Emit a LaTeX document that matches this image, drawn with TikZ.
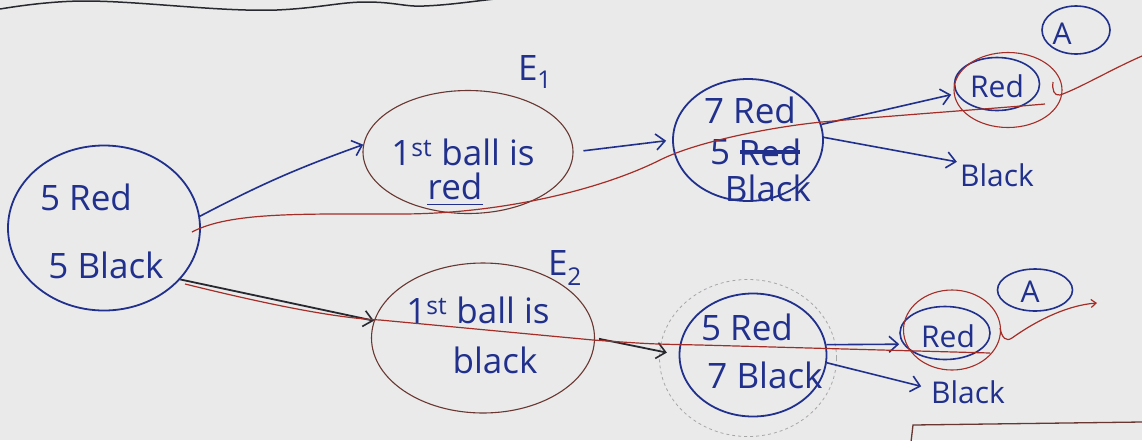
\documentclass[tikz,border=0pt]{standalone}
\usepackage{fontspec}
\setmainfont{Open Sans}
\usetikzlibrary{arrows.meta,shapes.geometric,calc}
\definecolor{board}{RGB}{233,234,233}
\definecolor{ink}{RGB}{32,48,140}
\definecolor{redink}{RGB}{165,45,40}
\definecolor{brownink}{RGB}{105,55,50}
\definecolor{darkink}{RGB}{40,40,48}
\begin{document}
\begin{tikzpicture}[x=1pt,y=-1pt,
  ell/.style={ellipse, draw=ink, line width=1.8pt, inner sep=0pt},
  thinell/.style={ellipse, draw=brownink, line width=1.1pt, inner sep=0pt},
  redell/.style={ellipse, draw=redink, line width=1.1pt, inner sep=0pt},
  txt/.style={text=ink, font=\fontsize{35}{40}\selectfont, inner sep=0pt},
  smalltxt/.style={text=ink, font=\fontsize{30}{34}\selectfont, inner sep=0pt},
  arr/.style={draw=ink, line width=1.6pt, -{Straight Barb[length=9pt,width=16pt,line width=1.6pt]}},
  darkarr/.style={draw=darkink, line width=1.8pt, -{Straight Barb[length=9pt,width=16pt,line width=1.6pt]}},
  redline/.style={draw=redink, line width=1.2pt}]
\fill[board] (0,0) rectangle (1142,440);
\useasboundingbox (0,0) rectangle (1142,440);

% top wavy line
\draw[darkink, line width=1.5pt] (0,9) .. controls (30,4) and (60,1) .. (85,1)
  .. controls (140,1) and (220,12) .. (277,10) .. controls (320,8) and (340,2) .. (366,2)
  .. controls (395,2) and (405,7) .. (424,6) .. controls (450,5) and (475,1) .. (495,-1);

% start node
\node[ell, minimum width=192pt, minimum height=165pt] (S) at (104,228) {};
\node[txt] (s1) at (86,197) {5 Red};
\node[txt] (s2) at (106,265) {5 Black};

% E1
\node[thinell, minimum width=210pt, minimum height=123pt] (E1) at (468,152) {};
\node[txt] (e1a) at (463,152) {1\textsuperscript{st} ball is};
\node[txt] (e1b) at (455,186) {red};
\draw[ink, line width=1.6pt] ([yshift=-5pt]e1b.south west) -- ([yshift=-5pt]e1b.south east);
\node[txt] (E1lab) at (535,72) {E\textsubscript{1}};

% E2
\node[thinell, minimum width=223pt, minimum height=150pt] (E2) at (483,338) {};
\node[txt] (e2a) at (478,310) {1\textsuperscript{st} ball is};
\node[txt] (e2b) at (495,360) {black};
\node[txt] (E2lab) at (565,268) {E\textsubscript{2}};

% M1
\node[ell, minimum width=150pt, minimum height=122pt] (M1) at (748,140) {};
\node[txt] (m1a) at (750,110) {7 Red};
\node[txt] (m1b) at (720,152) {5};
\node[txt] (m1r) at (770,152) {Red};
\draw[ink, line width=4pt] ([xshift=2pt]m1r.west) -- ([xshift=-2pt]m1r.east);
\node[txt] (m1c) at (768,188) {Black};

% top right
\node[ell, line width=1.6pt, minimum width=85pt, minimum height=53pt] (R1b) at (997,84) {};
\node[smalltxt] (R1) at (997,86) {Red};
\node[redell, minimum width=108pt, minimum height=75pt] (R1r) at (1008,90) {};
\node[smalltxt] (B1) at (997,175) {Black};
\node[ell, line width=1.6pt, minimum width=68pt, minimum height=48pt] (A1e) at (1076,30) {};
\node[smalltxt] (A1) at (1062,34) {A};

% M2
\node[ell, minimum width=147pt, minimum height=123pt] (M2) at (753,355) {};
\node[ellipse, draw=gray!70, dashed, line width=0.8pt, minimum width=177pt, minimum height=157pt] (M2d) at (748,358) {};
\node[txt] (m2a) at (747,327) {5 Red};
\node[txt] (m2b) at (765,375) {7 Black};

% lower right
\node[ell, line width=1.6pt, minimum width=90pt, minimum height=53pt] (R2b) at (945,333) {};
\node[smalltxt] (R2) at (948,336) {Red};
\node[redell, minimum width=97pt, minimum height=80pt] (R2r) at (952,330) {};
\node[smalltxt] (B2) at (968,392) {Black};
\node[ell, line width=1.6pt, minimum width=75pt, minimum height=42pt] (A2e) at (1035,290) {};
\node[smalltxt] (A2) at (1030,292) {A};

% arrows
\draw[arr] (S.7) to[bend left=4] (E1.176);
\draw[darkarr] (S.-34) -- (E2.171);
\draw[arr, shorten <=10pt, shorten >=6pt] (E1.east) -- (M1.west);
\draw[darkarr, shorten <=4pt, shorten >=12pt] (E2.east) -- (M2.west);
\draw[arr] (M1.12) -- ([xshift=-6pt]R1b.195);
\draw[arr, shorten >=8pt] (M1.2) -- (B1.160);
\draw[arr] (M2.8) -- ([xshift=-4pt]R2b.195);
\draw[arr, shorten >=10pt] (M2.-6) -- (B2.175);

% red solution paths
\draw[redline] (192,232) .. controls (230,212) and (300,214) .. (400,214)
  .. controls (500,214) and (600,190) .. (660,160)
  .. controls (700,140) and (780,126) .. (822,122)
  .. controls (900,115) and (1000,108) .. (1045,104);
\draw[redline] (1053,82) .. controls (1052,90) and (1054,96) .. (1060,95)
  .. controls (1080,88) and (1110,70) .. (1142,56);
\draw[redline] (185,284) .. controls (250,300) and (330,318) .. (380,320)
  -- (593,340) .. controls (650,344) .. (700,345) -- (990,353);
\draw[redline, -{Straight Barb[length=5pt,width=8pt]}] (1000,328) .. controls (1002,338) and (1006,342) .. (1012,338)
  .. controls (1040,318) and (1070,305) .. (1097,303);

% bottom-right box corner
\draw[brownink, line width=1.3pt] (911,442) -- (913,425) -- (1142,422);
\end{tikzpicture}
\end{document}
